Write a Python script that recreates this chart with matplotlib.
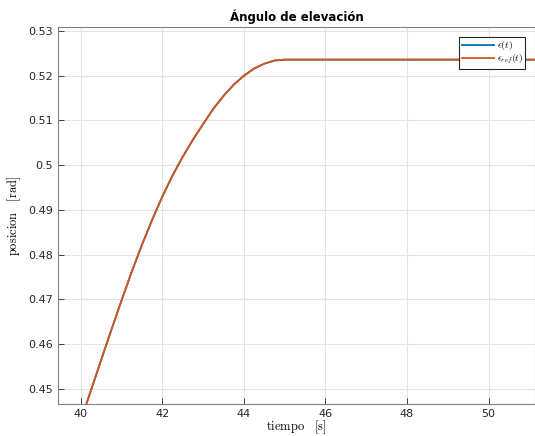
import matplotlib
matplotlib.use("Agg")
import matplotlib.pyplot as plt

t = [40.0, 40.25, 40.5, 40.75, 41.0, 41.25, 41.5, 41.75, 42.0, 42.25, 42.5,
     42.75, 43.0, 43.25, 43.5, 43.75, 44.0, 44.25, 44.5, 44.75, 45.0, 51.2]
eps = [0.4429, 0.4497, 0.4565, 0.4632, 0.4698, 0.4762, 0.4822, 0.4878, 0.4930,
       0.4977, 0.5019, 0.5057, 0.5092, 0.5126, 0.5155, 0.5180, 0.5200, 0.5216,
       0.5227, 0.5234, 0.5236, 0.5236]
eps_ref = [0.4429, 0.4497, 0.4565, 0.4632, 0.4698, 0.4762, 0.4822, 0.4878, 0.4930,
           0.4977, 0.5019, 0.5057, 0.5092, 0.5126, 0.5155, 0.5180, 0.5200, 0.5216,
           0.5227, 0.5234, 0.5236, 0.5236]
xticks = [40, 42, 44, 46, 48, 50]
yticks = [0.45, 0.46, 0.47, 0.48, 0.49, 0.5, 0.51, 0.52, 0.53]
ytick_labels = ["0.45", "0.46", "0.47", "0.48", "0.49", "0.5", "0.51", "0.52", "0.53"]

plt.rcParams['mathtext.fontset'] = 'cm'
fig = plt.figure(figsize=(5.35, 4.36), dpi=100)
ax = fig.add_axes([58/535, 1-404/436, 1-58/535, (404-27)/436])

ax.plot(t, eps, color='#0072BD', lw=1.3, label=r'$\epsilon(t)$',
        solid_joinstyle='round')
ax.plot(t, eps_ref, color='#D95319', lw=1.3, label=r'$\epsilon_{ref}(t)$',
        solid_joinstyle='round')

ax.set_xlim(39.44, 51.14)
ax.set_ylim(0.4466, 0.5309)
ax.set_xticks(xticks)
ax.set_yticks(yticks)
ax.set_yticklabels(ytick_labels)
ax.tick_params(direction='in', labelsize=8, colors='#262626', length=4, width=0.6,
               top=False, right=False)
ax.grid(True, color='#e3e3e3', lw=0.8)
ax.set_axisbelow(True)
for s in ax.spines.values():
    s.set_color('#808080')
    s.set_linewidth(0.8)

ax.set_title('Ángulo de elevación', fontsize=8.5, fontweight='bold', pad=4)
ax.set_xlabel(r'$\mathrm{tiempo}\quad[\mathrm{s}]$', fontsize=9, labelpad=0)
ax.set_ylabel(r'$\mathrm{posicion}\quad[\mathrm{rad}]$', fontsize=9, labelpad=4)

leg = ax.legend(loc='upper right', fontsize=7, fancybox=False, edgecolor='#262626',
                framealpha=1, borderpad=0.25, handlelength=3.3, labelspacing=0.05,
                handletextpad=0.3, borderaxespad=0,
                bbox_to_anchor=(0.98, 0.9735))
leg.get_frame().set_linewidth(0.8)

fig.savefig('out.png', dpi=100)
